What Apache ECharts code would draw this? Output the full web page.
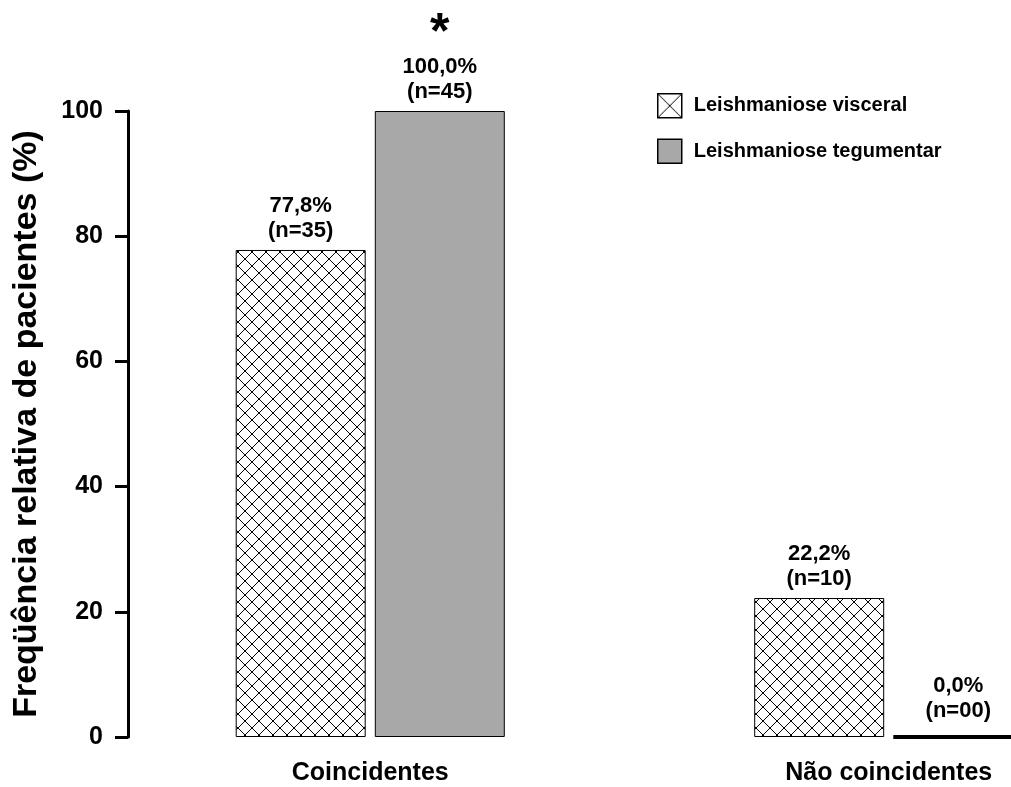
<!DOCTYPE html>
<html>
<head>
<meta charset="utf-8">
<script src="https://cdn.jsdelivr.net/npm/echarts@6/dist/echarts.min.js"></script>
<style>
  html, body { margin: 0; padding: 0; background: #fff; }
  #main { width: 1011px; height: 787px; }
</style>
</head>
<body>
<div id="main"></div>
<script>
// dados
var categories = ['Coincidentes', 'Não coincidentes'];
var seriesNames = ['Leishmaniose visceral', 'Leishmaniose tegumentar'];
var visceralPct = [77.8, 22.2];
var visceralN = [35, 10];
var tegumentarPct = [100.0, 0.0];
var tegumentarN = [45, 0];
var yTicks = [0, 20, 40, 60, 80, 100];

var FONT = '"Liberation Sans", Arial, sans-serif';

// hachura cruzada para a leishmaniose visceral
function crossHatch(size) {
    var c = document.createElement('canvas');
    c.width = size;
    c.height = size;
    var ctx = c.getContext('2d');
    ctx.fillStyle = '#fff';
    ctx.fillRect(0, 0, size, size);
    ctx.strokeStyle = '#000';
    ctx.lineWidth = 1;
    ctx.beginPath();
    ctx.moveTo(0, 0);
    ctx.lineTo(size, size);
    ctx.moveTo(size, 0);
    ctx.lineTo(0, size);
    ctx.stroke();
    return c;
}

function fmtPct(v) {
    return v.toFixed(1).replace('.', ',') + '%';
}
function fmtN(n) {
    return '(n=' + String(n).padStart(2, '0') + ')';
}

var hatch = { image: crossHatch(14), repeat: 'repeat' };
var hatchLegend = { image: crossHatch(24), repeat: 'repeat' };

var labelText = { fontFamily: FONT, fontWeight: 'bold', fontSize: 22, color: '#000', lineHeight: 25 };

var visceralData = visceralPct.map(function (v, i) {
    return { value: v, n: visceralN[i] };
});
var tegumentarData = tegumentarPct.map(function (v, i) {
    var d = { value: v, n: tegumentarN[i] };
    if (v === 0) {
        d.itemStyle = { borderWidth: 4 };
        d.label = { distance: 12 };
    }
    if (i === 0) {
        d.star = true; // diferença significativa
    }
    return d;
});

var myChart = echarts.init(document.getElementById('main'));
myChart.setOption({
    animation: false,
    backgroundColor: '#fff',
    // a figura original está cortada à direita
    grid: { left: 111, right: -137, top: 111, bottom: 50, outerBoundsMode: 'none', containLabel: false },
    legend: {
        orient: 'vertical',
        left: 652,
        top: 88,
        itemWidth: 24,
        itemHeight: 24,
        itemGap: 20,
        textStyle: { fontFamily: FONT, fontWeight: 'bold', fontSize: 20, color: '#000', padding: [0, 0, 0, 7] },
        data: [
            { name: seriesNames[0], icon: 'rect', itemStyle: { color: hatchLegend, borderColor: '#000', borderWidth: 1.5 } },
            { name: seriesNames[1], icon: 'rect', itemStyle: { color: '#a8a8a8', borderColor: '#000', borderWidth: 1.5 } }
        ]
    },
    xAxis: {
        type: 'category',
        data: categories,
        axisLine: { show: false },
        axisTick: { show: false },
        axisLabel: { fontFamily: FONT, fontWeight: 'bold', fontSize: 25, color: '#000', margin: 24 }
    },
    yAxis: {
        type: 'value',
        min: yTicks[0],
        max: yTicks[yTicks.length - 1],
        interval: yTicks[1] - yTicks[0],
        offset: -17,
        splitLine: { show: false },
        axisLine: { show: true, lineStyle: { color: '#000', width: 3 } },
        axisTick: { show: true, length: 13, lineStyle: { color: '#000', width: 3 } },
        axisLabel: { fontFamily: FONT, fontWeight: 'bold', fontSize: 25, color: '#000', margin: 25 },
        name: 'Freqüência relativa de pacientes (%)',
        nameLocation: 'middle',
        nameGap: 84,
        nameTextStyle: { fontFamily: FONT, fontWeight: 'bold', fontSize: 34, color: '#000' }
    },
    series: [{
        name: seriesNames[0],
        type: 'bar',
        barWidth: 130,
        barGap: '7%',
        data: visceralData,
        itemStyle: { color: hatch, borderColor: '#000', borderWidth: 1 },
        label: {
            show: true,
            position: 'top',
            distance: 7,
            formatter: function (p) {
                return fmtPct(p.value) + '\n' + fmtN(p.data.n);
            },
            textStyle: labelText
        }
    }, {
        name: seriesNames[1],
        type: 'bar',
        barWidth: 130,
        barGap: '7%',
        data: tegumentarData,
        itemStyle: { color: '#a8a8a8', borderColor: '#000', borderWidth: 1 },
        label: {
            show: true,
            position: 'top',
            distance: 7,
            formatter: function (p) {
                var s = '{t|' + fmtPct(p.value) + '}\n{t|' + fmtN(p.data.n) + '}';
                if (p.data.star) s = '{s|*}\n' + s;
                return s;
            },
            rich: {
                t: labelText,
                s: { fontFamily: FONT, fontWeight: 'bold', fontSize: 50, color: '#000', lineHeight: 40 }
            }
        }
    }]
});
</script>
</body>
</html>
